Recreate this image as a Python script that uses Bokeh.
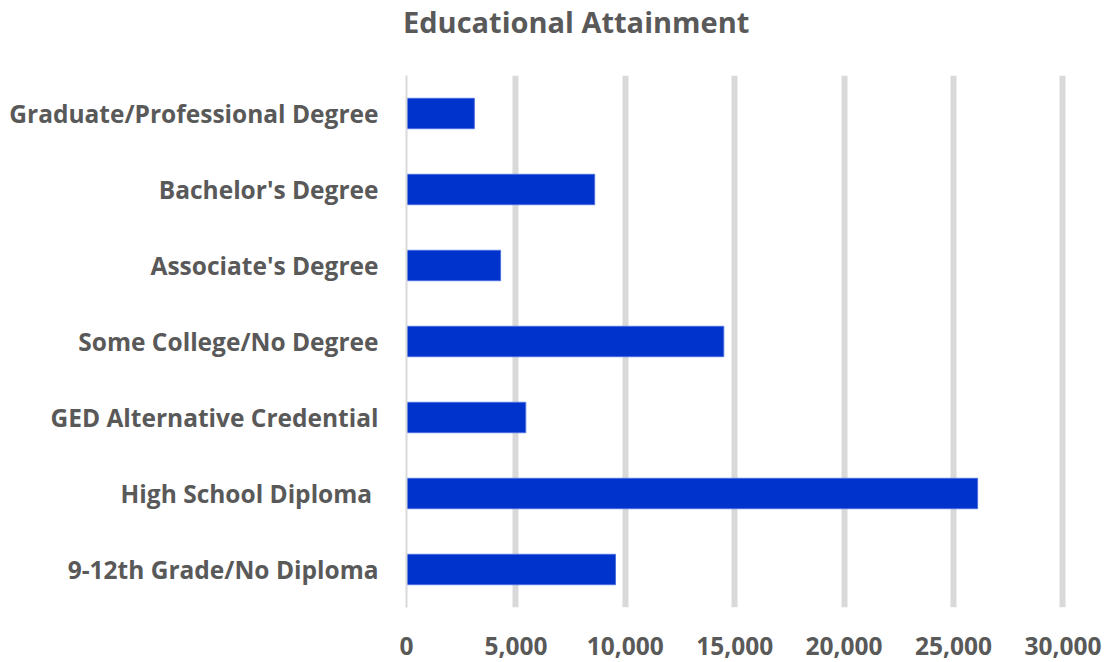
from bokeh.plotting import figure
from bokeh.models import FixedTicker, NumeralTickFormatter, Range1d, Div
from bokeh.layouts import column
from bokeh.embed import file_html
from bokeh.resources import INLINE

title_text = "Educational Attainment"
categories = [
    "9-12th Grade/No Diploma",
    "High School Diploma ",
    "GED Alternative Credential",
    "Some College/No Degree",
    "Associate's Degree",
    "Bachelor's Degree",
    "Graduate/Professional Degree",
]
values = [9550, 26100, 5450, 14500, 4300, 8600, 3100]
x_ticks = [0, 5000, 10000, 15000, 20000, 25000, 30000]

FONT = "Open Sans"
GRAY = "#595959"

title = Div(
    text=('<div style="font-family:\'Open Sans\';font-weight:bold;font-size:29px;'
          'color:#595959;line-height:44px;padding-left:403px;white-space:nowrap;">'
          + title_text + '</div>'),
    width=1104, height=44, margin=0,
)

p = figure(
    width=1104, height=618,
    y_range=categories,
    x_range=Range1d(0, 30300),
    output_backend="svg", toolbar_location=None,
    min_border_left=406, min_border_right=35,
    min_border_top=31, min_border_bottom=55, margin=0,
)
p.hbar(y=categories, right=values, height=0.4, color="#0033cc",
       line_color="#4a6ee0", line_width=1)

p.y_range.range_padding = 0
p.outline_line_color = None
p.background_fill_color = "white"
p.border_fill_color = "white"

p.xaxis.ticker = FixedTicker(ticks=x_ticks)
p.xaxis.formatter = NumeralTickFormatter(format="0,0")
p.xaxis.axis_line_color = None
p.xaxis.major_tick_line_color = None
p.xaxis.minor_tick_line_color = None
p.xaxis.major_label_text_font = FONT
p.xaxis.major_label_text_font_style = "bold"
p.xaxis.major_label_text_font_size = "24.5px"
p.xaxis.major_label_text_color = GRAY
p.xaxis.major_label_standoff = 23

p.yaxis.axis_line_color = "#d9d9d9"
p.yaxis.axis_line_width = 2
p.yaxis.major_tick_line_color = None
p.yaxis.minor_tick_line_color = None
p.yaxis.major_label_text_font = FONT
p.yaxis.major_label_text_font_style = "bold"
p.yaxis.major_label_text_font_size = "24.5px"
p.yaxis.major_label_text_color = GRAY
p.yaxis.major_label_standoff = 22

p.ygrid.grid_line_color = None
p.xgrid.ticker = FixedTicker(ticks=x_ticks[1:])
p.xgrid.grid_line_color = "#d9d9d9"
p.xgrid.grid_line_width = 6

layout = column(title, p, spacing=0)
open("out.html", "w").write(file_html(layout, INLINE))
